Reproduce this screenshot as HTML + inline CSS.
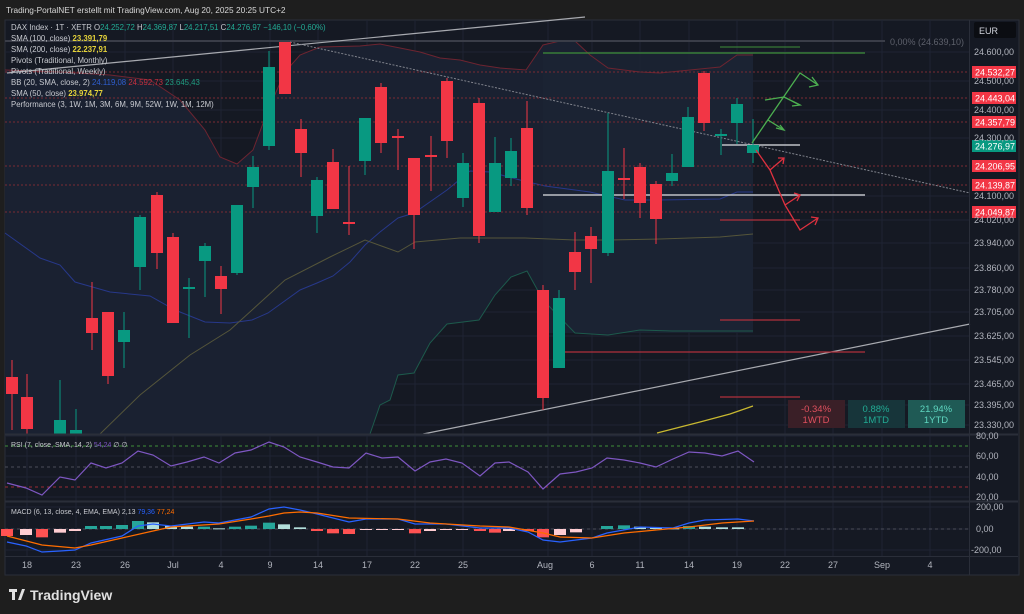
<!DOCTYPE html>
<html><head><meta charset="utf-8"><style>
html,body{margin:0;padding:0;background:#1e1e1e;}
svg{display:block;font-family:"Liberation Sans",sans-serif;}
</style></head><body>
<svg id="s" width="1024" height="614" viewBox="0 0 1024 614" xmlns="http://www.w3.org/2000/svg">
<rect width="1024" height="614" fill="#1e1e1e"/>
<text x="6" y="13" fill="#d8d8d8" font-size="8.3">Trading-PortalNET erstellt mit TradingView.com, Aug 20, 2025 20:25 UTC+2</text>
<rect x="5" y="20" width="1014" height="555" fill="#151923" stroke="#2a2e39"/>
<g id="grid" stroke="#1f2433" stroke-width="1"></g>
<path id="bbfill" fill="#1a2131"/>
<rect x="543" y="53" width="210" height="280" fill="#1c2435" opacity="0.8"/>
<g id="lines"></g>
<g id="cand"></g>
<g id="over"></g>
<line x1="5" y1="434.5" x2="1018" y2="434.5" stroke="#2a2e39" stroke-width="2"/>
<line x1="5" y1="501.5" x2="1018" y2="501.5" stroke="#2a2e39" stroke-width="2"/>
<line x1="5" y1="556.5" x2="1018" y2="556.5" stroke="#2a2e39"/>
<line x1="969.5" y1="20" x2="969.5" y2="575" stroke="#2a2e39"/>
<g font-size="7.8" fill="#c8cad0">
<text x="11" y="30">DAX Index · 1T · XETR  O<tspan fill="#22ab94">24.252,72</tspan>  H<tspan fill="#22ab94">24.369,87</tspan>  L<tspan fill="#22ab94">24.217,51</tspan>  C<tspan fill="#22ab94">24.276,97</tspan> <tspan fill="#22ab94">−146,10 (−0,60%)</tspan></text>
<text x="11" y="41">SMA (100, close)  <tspan fill="#e6d43a" font-weight="bold">23.391,79</tspan></text>
<text x="11" y="52">SMA (200, close)  <tspan fill="#e6d43a" font-weight="bold">22.237,91</tspan></text>
<text x="11" y="63">Pivots (Traditional, Monthly)</text>
<text x="11" y="74">Pivots (Traditional, Weekly)</text>
<text x="11" y="85">BB (20, SMA, close, 2)  <tspan fill="#2f5fd0">24.119,08</tspan>  <tspan fill="#c8303f">24.592,73</tspan>  <tspan fill="#1f9d80">23.645,43</tspan></text>
<text x="11" y="96">SMA (50, close)  <tspan fill="#e6d43a" font-weight="bold">23.974,77</tspan></text>
<text x="11" y="107">Performance (3, 1W, 1M, 3M, 6M, 9M, 52W, 1W, 1M, 12M)</text>
<text x="11" y="447" font-size="7">RSI (7, close, SMA, 14, 2)  <tspan fill="#7e57c2">54,24</tspan>  ∅  ∅</text>
<text x="11" y="514" font-size="7">MACD (6, 13, close, 4, EMA, EMA)  2,13  <tspan fill="#2962ff">79,36</tspan>  <tspan fill="#ff6d00">77,24</tspan></text>
</g>
<text x="890" y="45" fill="#5d606b" font-size="9">0,00% (24.639,10)</text>
<rect x="974" y="22" width="42" height="16" rx="2" fill="#0b0d12"/>
<text x="979" y="34" fill="#d1d4dc" font-size="9">EUR</text>
<g font-size="9" fill="#b2b5be" id="axis"></g>
<rect x="788" y="400" width="57" height="28" fill="#3a1f27"/>
<rect x="848" y="400" width="57" height="28" fill="#17353a"/>
<rect x="908" y="400" width="57" height="28" fill="#1f5a55"/>
<g font-size="9.5" text-anchor="middle">
<text x="816" y="412" fill="#e0505e">-0.34%</text><text x="816" y="423" fill="#e0505e">1WTD</text>
<text x="876" y="412" fill="#22ab94">0.88%</text><text x="876" y="423" fill="#22ab94">1MTD</text>
<text x="936" y="412" fill="#5fd6c0">21.94%</text><text x="936" y="423" fill="#5fd6c0">1YTD</text>
</g>
<g font-size="9" fill="#b2b5be" text-anchor="middle">
<text x="27" y="568">18</text><text x="76" y="568">23</text><text x="125" y="568">26</text><text x="173" y="568">Jul</text><text x="221" y="568">4</text><text x="270" y="568">9</text><text x="318" y="568">14</text><text x="367" y="568">17</text><text x="415" y="568">22</text><text x="463" y="568">25</text><text x="545" y="568">Aug</text><text x="592" y="568">6</text><text x="640" y="568">11</text><text x="689" y="568">14</text><text x="737" y="568">19</text><text x="785" y="568">22</text><text x="833" y="568">27</text><text x="882" y="568">Sep</text><text x="930" y="568">4</text>
</g>
<g fill="#e0e0e0"><rect x="9" y="589" width="8" height="3"/><rect x="12" y="589" width="3" height="11"/><path d="M18 600 L22 589 L25 589 L21 600 Z"/></g>
<text x="30" y="600" fill="#e0e0e0" font-size="14" font-weight="bold">TradingView</text>
<script>
const NS="http://www.w3.org/2000/svg";
function el(p,t,a){const e=document.createElementNS(NS,t);for(const k in a)e.setAttribute(k,a[k]);document.getElementById(p).appendChild(e);return e;}
const grid=[27,76,125,173,221,270,318,367,415,463,548,592,640,689,737,785,833,882,930];
grid.forEach(x=>el('grid','line',{x1:x,y1:20,x2:x,y2:556}));
const py=[[52,"24.600,00"],[81,"24.500,00"],[110,"24.400,00"],[138,"24.300,00"],[196,"24.100,00"],[220,"24.020,00"],[243,"23.940,00"],[268,"23.860,00"],[290,"23.780,00"],[312,"23.705,00"],[336,"23.625,00"],[360,"23.545,00"],[384,"23.465,00"],[405,"23.395,00"],[425,"23.330,00"]];
py.forEach(([y,t])=>{el('grid','line',{x1:5,y1:y,x2:969,y2:y});const e=el('axis','text',{x:974,y:y+3});e.textContent=t;});
[[436,"80,00"],[456,"60,00"],[477,"40,00"],[497,"20,00"],[507,"200,00"],[529,"0,00"],[550,"-200,00"]].forEach(([y,t])=>{el('grid','line',{x1:5,y1:y,x2:969,y2:y});const e=el('axis','text',{x:y==550?971:976,y:y+3});e.textContent=t;});
function pl(p,pts,c,w,extra){const a=Object.assign({points:pts.map(q=>q.join(',')).join(' '),fill:'none',stroke:c,'stroke-width':w||1},extra||{});return el(p,'polyline',a);}
const up=[[5,70],[60,72],[110,75],[150,80],[180,100],[205,130],[220,157],[237,164],[253,150],[268,110],[285,72],[300,55],[320,47],[360,46],[380,44],[400,48],[420,52],[440,58],[460,60],[480,65],[500,68],[526,70],[543,45],[560,41],[575,41],[590,55],[608,68],[640,72],[660,73],[690,70],[720,67],[737,55],[753,55]];
const lo=[[5,434],[370,434],[380,405],[390,400],[398,375],[414,373],[430,343],[447,324],[479,320],[495,295],[511,277],[527,271],[543,300],[575,333],[608,335],[640,330],[672,331],[720,331],[753,331]];
document.getElementById('bbfill').setAttribute('d','M'+up.map(q=>q.join(',')).join(' L')+' L'+lo.slice().reverse().map(q=>q.join(',')).join(' L')+' Z');
pl('lines',up,'#6e2430');
pl('lines',lo.slice(1),'#1d5a4c');
pl('lines',[[5,233],[40,258],[60,265],[75,282],[110,292],[150,296],[175,310],[205,322],[230,323],[252,320],[268,313],[300,290],[317,283],[333,276],[350,262],[365,245],[380,232],[398,218],[414,213],[447,190],[470,171],[490,172],[520,180],[545,186],[590,192],[625,200],[660,200],[720,199],[737,192],[753,192]],'#27388a');
pl('lines',[[100,434],[140,395],[190,355],[230,330],[285,280],[330,257],[365,240],[398,252],[415,242],[460,238],[525,238],[575,240],[608,240],[660,239],[720,237],[753,234]],'#55553a');
pl('lines',[[657,433],[700,422],[730,414],[753,406]],'#c8b830',1.2);
[72,98,122,166,185,212].forEach(y=>el('lines','line',{x1:5,y1:y,x2:969,y2:y,stroke:'#7a2a33','stroke-dasharray':'2,2'}));
el('lines','line',{x1:5,y1:41,x2:885,y2:41,stroke:'#3a3d48','stroke-width':2});
el('lines','line',{x1:7,y1:73,x2:585,y2:17,stroke:'#a8aab0','stroke-width':1.2});
el('lines','line',{x1:290,y1:42,x2:970,y2:193,stroke:'#80838c','stroke-dasharray':'2,1.5'});
el('lines','line',{x1:423,y1:434,x2:970,y2:324,stroke:'#a8aab0','stroke-width':1.2});
el('lines','line',{x1:543,y1:53,x2:865,y2:53,stroke:'#3f8f3a','stroke-width':1.3});
el('lines','line',{x1:720,y1:47,x2:800,y2:47,stroke:'#3f8f3a','stroke-width':1});
el('lines','line',{x1:722,y1:145,x2:800,y2:145,stroke:'#c0c2c8','stroke-width':1.5});
el('lines','line',{x1:543,y1:195,x2:865,y2:195,stroke:'#c0c2c8','stroke-width':1.5});
[[220,720,800],[320,720,800],[352,560,865],[397,720,800]].forEach(([y,a,b])=>el('lines','line',{x1:a,y1:y,x2:b,y2:y,stroke:'#b0303c','stroke-width':1.2}));
const C=[[12,377,394,360,430,0],[27,397,429,374,435,0],[60,420,434,380,434,1],[76,430,434,409,434,1],[92,318,333,282,350,0],[108,312,376,312,384,0],[124,330,342,312,368,1],[140,217,267,215,290,1],[157,195,253,192,269,0],[173,237,323,233,323,0],[189,287,289,278,338,1],[205,246,261,243,297,1],[221,276,289,266,314,0],[237,205,273,205,275,1],[253,167,187,156,208,1],[269,67,146,51,150,1],[285,42,94,42,94,0],[301,129,153,119,177,0],[317,180,216,177,233,1],[333,162,209,149,209,0],[349,222,224,166,235,0],[365,118,161,118,175,1],[381,87,143,83,153,0],[398,136,138,129,170,0],[414,158,215,158,249,0],[431,155,157,136,191,0],[447,81,141,78,158,0],[463,163,198,153,207,1],[479,103,236,98,243,0],[495,163,212,137,212,1],[511,151,178,138,186,1],[527,128,208,101,215,0],[543,290,398,285,410,0],[559,298,368,290,368,1],[575,252,272,232,290,0],[591,236,249,227,283,0],[608,171,253,113,256,1],[624,178,180,148,199,0],[640,167,203,163,218,0],[656,184,219,181,244,0],[672,173,181,154,186,1],[688,117,167,107,167,1],[704,73,123,71,131,0],[721,134,136,129,155,1],[737,104,123,98,144,1],[753,145,153,119,163,1]];
C.forEach(([x,t,b,wt,wb,g])=>{const c=g?'#089981':'#f23645';el('cand','line',{x1:x,y1:wt,x2:x,y2:wb,stroke:c});const h=Math.max(b-t,1.5);el('cand','rect',{x:x-6,y:t,width:12,height:h,fill:c});});
const G='#4caf50',R='#e0313f';
pl('over',[[752,143],[800,73],[818,85]],G,1.3);pl('over',[[812,77],[818,85],[809,87]],G,1.3);
pl('over',[[784,97],[800,105],[792,106]],G,1.3);pl('over',[[792,101],[800,105]],G,1.3);
pl('over',[[768,120],[784,130]],G,1.3);pl('over',[[776,128],[784,130],[780,125]],G,1.3);
pl('over',[[765,100],[784,97]],G,1.3);
pl('over',[[756,150],[770,170],[785,205],[800,230],[818,218]],R,1.3);pl('over',[[811,217],[818,218],[815,225]],R,1.3);
pl('over',[[770,170],[784,158]],R,1.3);pl('over',[[778,158],[784,158],[783,164]],R,1.3);
pl('over',[[785,205],[800,195]],R,1.3);pl('over',[[794,193],[800,195],[797,201]],R,1.3);
[[72,"24.532,27",'#f23645'],[98,"24.443,04",'#f23645'],[122,"24.357,79",'#f23645'],[146,"24.276,97",'#089981'],[166,"24.206,95",'#f23645'],[185,"24.139,87",'#f23645'],[212,"24.049,87",'#f23645']].forEach(([y,t,c])=>{el('over','rect',{x:972,y:y-6,width:44,height:12,fill:c});const e=el('over','text',{x:975,y:y+3.5,fill:'#fff','font-size':9});e.textContent=t;});
el('lines','line',{x1:5,y1:446,x2:969,y2:446,stroke:'#3f8f3a','stroke-dasharray':'3,3'});
el('lines','line',{x1:5,y1:467,x2:969,y2:467,stroke:'#4a4d58','stroke-dasharray':'3,3'});
el('lines','line',{x1:5,y1:487,x2:969,y2:487,stroke:'#9a2a35','stroke-dasharray':'3,3'});
pl('lines',[[7,483],[26,488],[42,495],[60,477],[75,480],[91,463],[106,468],[122,463],[138,451],[153,455],[171,466],[187,462],[204,457],[219,463],[235,453],[251,450],[269,442],[284,447],[300,457],[317,462],[333,467],[349,468],[366,453],[382,458],[398,457],[415,471],[430,462],[446,459],[462,463],[480,476],[495,463],[509,462],[528,472],[543,489],[560,474],[576,472],[592,468],[607,458],[624,460],[640,463],[656,467],[673,459],[689,452],[705,453],[722,456],[738,451],[754,462]],'#7e57c2',1.2);
el('lines','line',{x1:5,y1:529,x2:969,y2:529,stroke:'#4a4d58','stroke-dasharray':'3,3'});
const H=[[7,348,'r'],[26,345,'p'],[42,352,'r'],[60,338,'p'],[75,333,'p'],[91,318,'t'],[106,318,'t'],[122,315,'t'],[138,303,'t'],[153,307,'l'],[171,318,'l'],[187,320,'l'],[204,320,'t'],[219,325,'l'],[235,320,'t'],[251,317,'t'],[269,308,'t'],[284,313,'l'],[300,322,'l'],[317,333,'r'],[333,340,'r'],[349,342,'r'],[366,330,'p'],[382,328,'p'],[398,328,'p'],[415,340,'r'],[430,333,'p'],[446,330,'p'],[462,330,'p'],[480,333,'r'],[495,338,'r'],[509,333,'p'],[528,333,'r'],[543,352,'r'],[560,345,'p'],[576,337,'p'],[607,318,'t'],[624,316,'t'],[640,320,'l'],[656,323,'l'],[673,325,'l'],[689,318,'t'],[705,320,'l'],[722,322,'l'],[738,322,'l']];
const HC={r:'#ff5252',p:'#ffcdd2',t:'#26a69a',l:'#b2dfdb'};
H.forEach(([x,zy,c])=>{const v=(zy-327)/3;el('lines','rect',{x:x-6,y:v<0?529+v:529,width:12,height:Math.max(Math.abs(v),1),fill:HC[c]});});
pl('lines',[[7,542],[26,546],[42,552],[60,551],[75,550],[91,543],[122,536],[138,526],[153,524],[171,526],[204,522],[219,523],[251,517],[269,509],[284,507],[300,510],[317,514],[349,522],[366,519],[398,519],[415,524],[446,524],[480,528],[509,528],[528,532],[543,540],[560,542],[576,540],[592,538],[607,533],[640,527],[673,528],[689,523],[705,520],[738,519],[754,521]],'#2962ff',1.2);
pl('lines',[[7,536],[42,545],[75,548],[91,545],[122,538],[153,531],[171,527],[219,524],[251,519],[269,516],[284,513],[300,512],[317,513],[349,518],[398,519],[430,523],[480,526],[509,527],[543,533],[560,537],[592,538],[624,533],[656,530],[689,527],[722,523],[754,521]],'#ff6d00',1.2);
</script>
</svg>
</body></html>
